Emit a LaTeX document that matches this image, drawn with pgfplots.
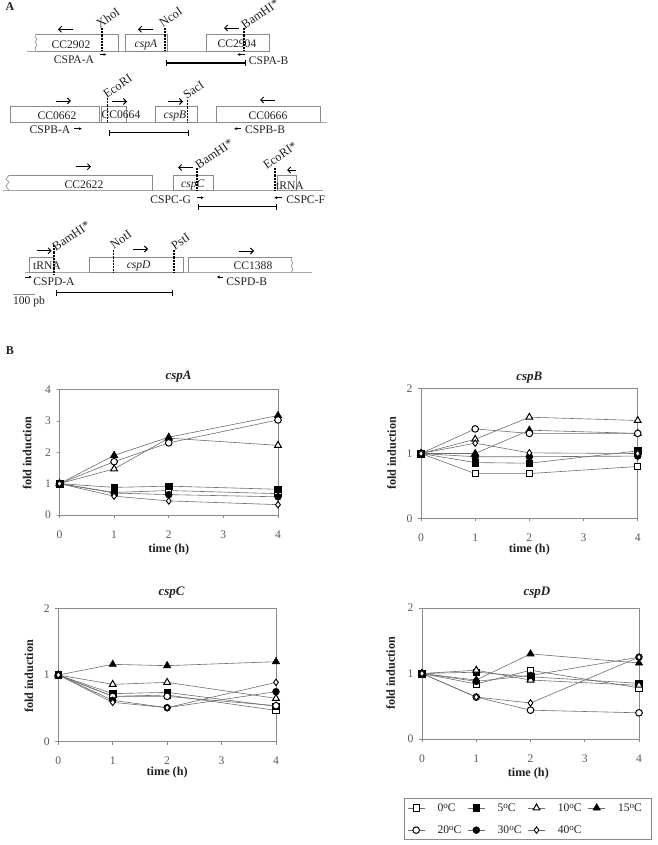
\documentclass[border=0pt]{standalone}
\usepackage{pgfplots}
\pgfplotsset{compat=1.18}
\usepackage{fontspec}
\setmainfont{Liberation Serif}
\usetikzlibrary{arrows.meta}
\definecolor{ln}{HTML}{6E6E6E}
\definecolor{ax}{HTML}{8A8A8A}
\definecolor{tx}{HTML}{222222}
\newcommand{\fs}{\fontsize{11.6}{13}\selectfont}
\newcommand{\fb}{\fontsize{12.2}{14}\selectfont\bfseries}
\newcommand{\lgd}[1]{\makebox[38.5pt][l]{\hspace{10.5pt}#1\raisebox{2.6pt}{\fontsize{9}{9}\selectfont o}C}}
\pgfplotsset{
 s0/.style={ln,line width=0.6pt,mark=square*,mark size=3.1pt,mark options={draw=black,fill=white,line width=1pt,solid}},
 s5/.style={ln,line width=0.6pt,mark=square*,mark size=3.3pt,mark options={draw=black,fill=black,solid}},
 s10/.style={ln,line width=0.6pt,mark=triangle*,mark size=3.9pt,mark options={draw=black,fill=white,line width=1pt,solid}},
 s15/.style={ln,line width=0.6pt,mark=triangle*,mark size=4.2pt,mark options={draw=black,fill=black,solid}},
 s20/.style={ln,line width=0.6pt,mark=*,mark size=3.3pt,mark options={draw=black,fill=white,line width=1pt,solid}},
 s30/.style={ln,line width=0.6pt,mark=*,mark size=3.4pt,mark options={draw=black,fill=black,solid}},
 s40/.style={ln,line width=0.6pt,mark=diamond*,mark size=3.2pt,mark options={draw=black,fill=white,line width=0.9pt,solid}},
 every axis title shift=0pt,
 panel/.style={
  scale only axis,anchor=south west,clip=false,
  xmin=0,xmax=4,xtick={0,1,2,3,4},ymin=0,
  axis line style={ax,line width=0.7pt},
  tick pos=left,tick align=outside,major tick length=3pt,
  every tick/.style={ax,line width=0.6pt},
  tick label style={font=\fs,text=tx!75!white},
  /pgf/number format/assume math mode=true,
  xlabel={time (h)},ylabel={fold induction},
  xlabel style={font=\fb,text=tx,anchor=center},
  ylabel style={font=\fb,text=tx,anchor=center,rotate=0},
  title style={font=\fontsize{13}{15}\selectfont\bfseries\itshape,text=tx,anchor=center},
  xticklabel style={yshift=-9pt},
  yticklabel style={xshift=-2pt},
 },
}
\begin{document}
\begin{tikzpicture}
\useasboundingbox (0pt,0pt) rectangle (657pt,-845pt);
\begin{scope}[x=1pt,y=-1pt,font=\fs,text=tx]
 % baselines
 \draw[black!35,line width=0.9pt] (27,51.2)--(268,51.2);
 \draw[black!35,line width=0.9pt] (10,122.2)--(327,122.2);
 \draw[black!35,line width=0.9pt] (3,190.5)--(323,190.5);
 \draw[black!35,line width=0.9pt] (25,272.4)--(312,272.4);
 % boxes
 \begin{scope}[draw=ax,line width=0.6pt]
  \draw (36,34)--(118,34)--(118,51)--(36,51);
  \draw (36,34)--(35,37)--(37,39)--(35,42)--(37,45)--(35,48)--(36,51);
  \draw (125,34) rectangle (167,51);
  \draw (206,34) rectangle (269,51);
  \draw (10,106) rectangle (99,122);
  \draw (101,106.5) rectangle (126,122);
  \draw (155.7,106.5) rectangle (197.3,122);
  \draw (216,106.5) rectangle (320,122);
  \draw (9,175.3)--(152,175.3)--(152,190.5);
  \draw (9,175.3)--(6,179)--(9,182)--(6,186)--(9,190.5);
  \draw (173,175.3) rectangle (213,190.5);
  \draw (277,175.3) rectangle (296,190.5);
  \draw (29,257) rectangle (53,272.4);
  \draw (89,257) rectangle (183,272.4);
  \draw (292,257)--(188,257)--(188,272.4);
  \draw (292,257)--(291,260)--(293,263)--(291,266)--(293,269)--(291,272.4);
 \end{scope}
 % gene labels
 \node at (71,44.5) {CC2902};
 \node at (146,45) {\itshape cspA};
 \node at (237,44) {CC2904};
 \node at (57,116) {CC0662};
 \node at (121,115) {CC0664};
 \node at (175,116) {\itshape cspB};
 \node at (268,116) {CC0666};
 \node at (84,184.5) {CC2622};
 \node at (192.7,184.5) {\itshape cspC};
 \node at (290,185.5) {tRNA};
 \node at (47,266) {tRNA};
 \node at (138.7,266) {\itshape cspD};
 \node at (253,266) {CC1388};
 % direction arrows
 \begin{scope}[line width=0.9pt,black,-{Straight Barb[length=3pt,width=6pt]}]
  \draw (73,29.3)--(58,29.3);
  \draw (153,29.3)--(138,29.3);
  \draw (239,28)--(224,28);
  \draw (56,101)--(71,101);
  \draw (112,101.5)--(127,101.5);
  \draw (168,101.5)--(183,101.5);
  \draw (275,100)--(260,100);
  \draw (76,166.7)--(91,166.7);
  \draw (193,167.5)--(178,167.5);
  \draw (296,170)--(287,170);
  \draw (36.7,250.7)--(51.7,250.7);
  \draw (133,249)--(148,249);
  \draw (239,251)--(254,251);
 \end{scope}
 % restriction sites
 \begin{scope}[black,line width=1.2pt,dash pattern=on 2.2pt off 1pt]
  \draw (102,28)--(102,51.5);
  \draw (165,28)--(165,51.5);
  \draw (244,28)--(244,51.5);
  \draw (107.7,98)--(107.7,122.5);
  \draw (187.7,100)--(187.7,122.5);
  \draw (197,168)--(197,191);
  \draw (275,168)--(275,191);
  \draw (54,245)--(54,274);
  \draw (113.7,250)--(113.7,272.5);
  \draw (174,250)--(174,272.5);
 \end{scope}
 \begin{scope}[every node/.style={rotate=35,anchor=south west,inner sep=0pt,font=\fontsize{12.4}{14}\selectfont}]
  \node at (100,29) {XhoI};
  \node at (163,28) {NcoI};
  \node at (245,30) {BamHI*};
  \node at (107,99) {EcoRI};
  \node at (187,100) {SacI};
  \node at (199,170) {BamHI*};
  \node at (267,170) {EcoRI*};
  \node at (56,252) {BamHI*};
  \node at (114,250) {NotI};
  \node at (175,251) {PstI};
 \end{scope}
 % primers
 \begin{scope}[black,line width=0.8pt,-{Latex[length=3pt,width=3pt]}]
  \draw (100,54.5)--(106.5,54.5);
  \draw (245,54.5)--(237,54.5);
  \draw (74,128.7)--(82,128.7);
  \draw (241,128.7)--(234,128.7);
  \draw (197,197.7)--(204,197.7);
  \draw (282,197.7)--(274,197.7);
  \draw (25,277)--(32,277);
  \draw (222.7,277)--(216.7,277);
 \end{scope}
 \node at (74,60) {CSPA-A};
 \node at (268.7,60.5) {CSPA-B};
 \node at (50,130) {CSPB-A};
 \node at (265,130) {CSPB-B};
 \node at (170.7,200) {CSPC-G};
 \node at (305.7,200) {CSPC-F};
 \node at (54,281.7) {CSPD-A};
 \node at (246.7,281.7) {CSPD-B};
 % fragments
 \begin{scope}[black,line width=1.2pt,{|[width=6pt]}-{|[width=6pt]}]
  \draw (165.7,63)--(245.7,63);
  \draw (109,132.7)--(189,132.7);
  \draw (198,206.7)--(276.7,206.7);
  \draw (55.7,292.7)--(173.3,292.7);
 \end{scope}
 \draw[ax,line width=0.6pt] (13.3,294)--(35,294);
 \node at (29,302) {100 pb};
 \node[font=\fontsize{12}{14}\selectfont\bfseries] at (10,7) {A};
 \node[font=\fontsize{12}{14}\selectfont\bfseries] at (10,351) {B};
\end{scope}

% cspA
\begin{axis}[panel,at={(59.5pt,-515pt)},width=218.5pt,height=125.5pt,ymax=4,ytick={0,1,2,3,4},
 title={cspA},title style={at={(axis description cs:0.545,1.1)}},
 xlabel style={at={(axis description cs:0.5,-0.275)}},
 ylabel style={at={(axis description cs:-0.148,0.49)}}]
\addplot[s0] coordinates {(0,1)(1,0.72)(2,0.78)(4,0.68)};
\addplot[s5] coordinates {(0,1)(1,0.88)(2,0.92)(4,0.82)};
\addplot[s10] coordinates {(0,1)(1,1.47)(2,2.45)(4,2.22)};
\addplot[s15] coordinates {(0,1)(1,1.9)(2,2.48)(4,3.17)};
\addplot[s20] coordinates {(0,1)(1,1.7)(2,2.3)(4,3.03)};
\addplot[s30] coordinates {(0,1)(1,0.7)(2,0.65)(4,0.58)};
\addplot[s40] coordinates {(0,1)(1,0.6)(2,0.45)(4,0.33)};
\end{axis}

% cspB
\begin{axis}[panel,at={(421pt,-518.3pt)},width=216.7pt,height=129.6pt,ymax=2,ytick={0,1,2},
 title={cspB},title style={at={(axis description cs:0.5,1.085)}},
 xlabel style={at={(axis description cs:0.5,-0.245)}},
 ylabel style={at={(axis description cs:-0.135,0.5)}}]
\addplot[s0] coordinates {(0,1)(1,0.69)(2,0.69)(4,0.80)};
\addplot[s5] coordinates {(0,1)(1,0.86)(2,0.85)(4,1.04)};
\addplot[s10] coordinates {(0,1)(1,1.22)(2,1.56)(4,1.51)};
\addplot[s15] coordinates {(0,1)(1,1.0)(2,1.36)(4,1.31)};
\addplot[s20] coordinates {(0,1)(1,1.38)(2,1.31)(4,1.31)};
\addplot[s30] coordinates {(0,1)(1,0.95)(2,0.95)(4,0.96)};
\addplot[s40] coordinates {(0,1)(1,1.16)(2,1.01)(4,1.0)};
\end{axis}

% cspC
\begin{axis}[panel,at={(58.3pt,-741.7pt)},width=217.7pt,height=133.4pt,ymax=2,ytick={0,1,2},
 title={cspC},title style={at={(axis description cs:0.52,1.115)}},
 xlabel style={at={(axis description cs:0.5,-0.235)}},
 ylabel style={at={(axis description cs:-0.135,0.49)}}]
\addplot[s0] coordinates {(0,1)(1,0.68)(2,0.70)(4,0.47)};
\addplot[s5] coordinates {(0,1)(1,0.72)(2,0.74)(4,0.53)};
\addplot[s10] coordinates {(0,1)(1,0.86)(2,0.89)(4,0.65)};
\addplot[s15] coordinates {(0,1)(1,1.16)(2,1.14)(4,1.2)};
\addplot[s20] coordinates {(0,1)(1,0.68)(2,0.68)(4,0.54)};
\addplot[s30] coordinates {(0,1)(1,0.62)(2,0.51)(4,0.75)};
\addplot[s40] coordinates {(0,1)(1,0.59)(2,0.51)(4,0.89)};
\end{axis}

% cspD
\begin{axis}[panel,at={(422pt,-739pt)},width=217pt,height=131pt,ymax=2,ytick={0,1,2},
 title={cspD},title style={at={(axis description cs:0.53,1.12)}},
 xlabel style={at={(axis description cs:0.49,-0.26)}},
 ylabel style={at={(axis description cs:-0.145,0.5)}},
 legend columns=4,
 legend cell align=left,
 legend style={at={(-0.083,-0.45)},anchor=north west,draw=ax,line width=0.7pt,
   font=\fs,text=tx,inner xsep=3pt,inner ysep=3pt,row sep=9pt,
   /tikz/every even column/.append style={column sep=0pt}}]
\addplot[s0] coordinates {(0,1)(1,0.84)(2,1.05)(4,0.78)};
\addlegendentry{\lgd{0}}
\addplot[s5] coordinates {(0,1)(1,1.02)(2,0.95)(4,0.85)};
\addlegendentry{\lgd{5}}
\addplot[s10] coordinates {(0,1)(1,1.05)(2,0.90)(4,0.82)};
\addlegendentry{\lgd{10}}
\addplot[s15] coordinates {(0,1)(1,0.90)(2,1.30)(4,1.16)};
\addlegendentry{\lgd{15}}
\addplot[s20] coordinates {(0,1)(1,0.64)(2,0.44)(4,0.40)};
\addlegendentry{\lgd{20}}
\addplot[s30] coordinates {(0,1)(1,0.88)(2,0.97)(4,1.25)};
\addlegendentry{\lgd{30}}
\addplot[s40] coordinates {(0,1)(1,0.64)(2,0.55)(4,1.25)};
\addlegendentry{\lgd{40}}
\end{axis}
\end{tikzpicture}
\end{document}
